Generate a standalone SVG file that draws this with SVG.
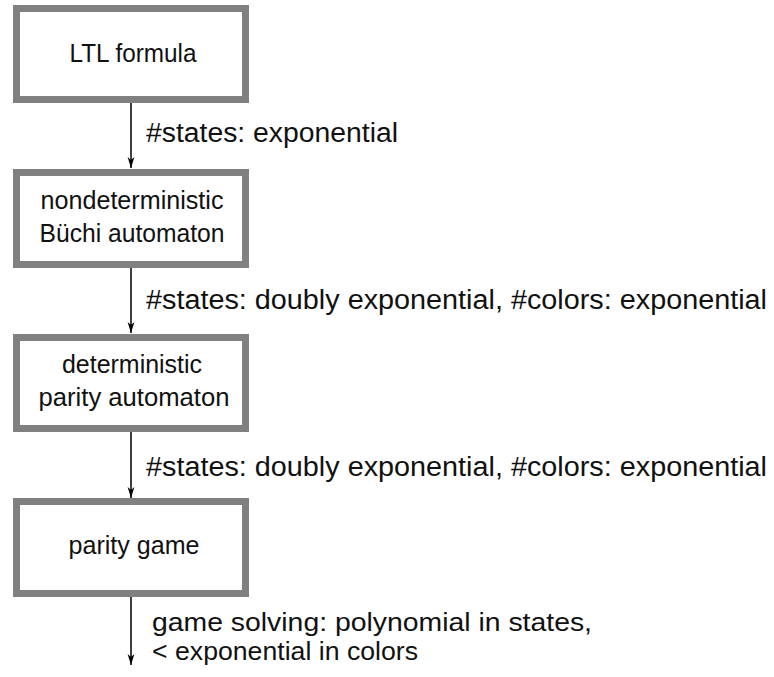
<svg xmlns="http://www.w3.org/2000/svg" width="774" height="677" viewBox="0 0 774 677">
  <style>
    .box { fill: #ffffff; stroke: #808080; stroke-width: 7; }
    .node-text { font-family: "Liberation Sans", Arial, sans-serif; font-size: 25px; fill: #111111; text-anchor: middle; }
    .edge { stroke: #000000; stroke-width: 1.5; fill: none; }
    .edge-label { font-family: "Liberation Sans", Arial, sans-serif; font-size: 27px; fill: #111111; }
    .edge-label.small { font-size: 25px; }
  </style>
  <defs>
    <!-- narrow barbed arrowhead, drawn along +x so orient="auto" points it down the line -->
    <marker id="arrowhead" markerUnits="userSpaceOnUse" markerWidth="14" markerHeight="10" refX="12" refY="5" orient="auto" viewBox="0 0 14 10">
      <path d="M1,1.6 L12,5 L1,8.4 L4,5 Z" fill="#000000"/>
    </marker>
  </defs>
  <rect width="774" height="677" fill="#ffffff"/>

  <!-- connectors -->
  <g id="connectors">
    <line class="edge" x1="131" y1="103" x2="131" y2="168" marker-end="url(#arrowhead)"/>
    <line class="edge" x1="131" y1="268" x2="131" y2="333" marker-end="url(#arrowhead)"/>
    <line class="edge" x1="131" y1="432" x2="131" y2="498" marker-end="url(#arrowhead)"/>
    <line class="edge" x1="131" y1="597" x2="131" y2="665" marker-end="url(#arrowhead)"/>
    <text class="edge-label" x="146" y="142" textLength="252" lengthAdjust="spacingAndGlyphs">#states: exponential</text>
    <text class="edge-label" x="146" y="309" textLength="621" lengthAdjust="spacingAndGlyphs">#states: doubly exponential, #colors: exponential</text>
    <text class="edge-label" x="146" y="476" textLength="621" lengthAdjust="spacingAndGlyphs">#states: doubly exponential, #colors: exponential</text>
    <text class="edge-label small" x="152" y="631" textLength="440" lengthAdjust="spacingAndGlyphs">game solving: polynomial in states,</text>
    <text class="edge-label small" x="152" y="660" textLength="266" lengthAdjust="spacingAndGlyphs">&lt; exponential in colors</text>
  </g>

  <!-- nodes -->
  <g id="ltl-formula">
    <rect class="box" x="16.5" y="8.5" width="229" height="91"/>
    <text class="node-text" x="133" y="62" textLength="127" lengthAdjust="spacingAndGlyphs">LTL formula</text>
  </g>
  <g id="buchi-automaton">
    <rect class="box" x="16.5" y="172.5" width="229" height="92"/>
    <text class="node-text" x="132" y="209" textLength="183" lengthAdjust="spacingAndGlyphs">nondeterministic</text>
    <text class="node-text" x="132" y="242" textLength="185" lengthAdjust="spacingAndGlyphs">Büchi automaton</text>
  </g>
  <g id="parity-automaton">
    <rect class="box" x="16.5" y="337.5" width="229" height="91"/>
    <text class="node-text" x="132" y="373" textLength="140" lengthAdjust="spacingAndGlyphs">deterministic</text>
    <text class="node-text" x="134" y="406" textLength="191" lengthAdjust="spacingAndGlyphs">parity automaton</text>
  </g>
  <g id="parity-game">
    <rect class="box" x="16.5" y="501.5" width="229" height="92"/>
    <text class="node-text" x="134" y="554" textLength="131" lengthAdjust="spacingAndGlyphs">parity game</text>
  </g>
</svg>
